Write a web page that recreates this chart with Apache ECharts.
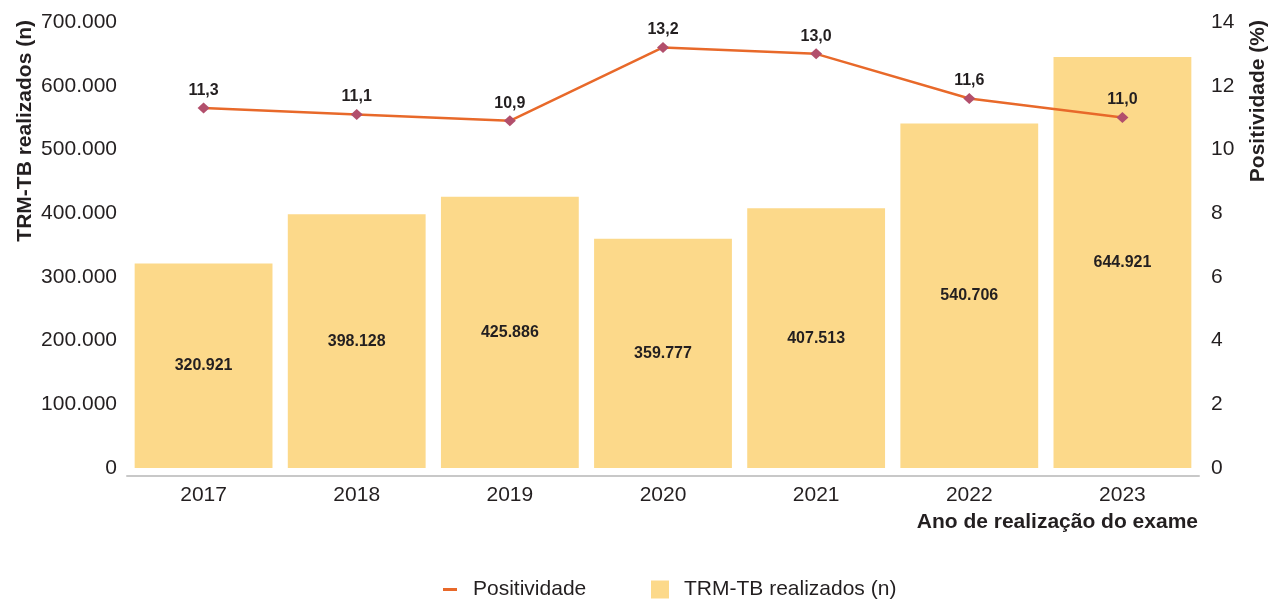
<!DOCTYPE html>
<html>
<head>
<meta charset="utf-8">
<script src="https://cdn.jsdelivr.net/npm/echarts@6/dist/echarts.min.js"></script>
<style>
  html, body { margin: 0; padding: 0; background: #fff; }
  #chart { width: 1276px; height: 603px; }
</style>
</head>
<body>
<div id="chart"></div>
<script>
const years = ['2017', '2018', '2019', '2020', '2021', '2022', '2023']
const testsDone = [320921, 398128, 425886, 359777, 407513, 540706, 644921]
const positivity = [11.3, 11.1, 10.9, 13.2, 13.0, 11.6, 11.0]

const sans = "'Liberation Sans', Arial, sans-serif"
const ink = '#231f20'

const fmtThousands = (v) => String(Math.round(v)).replace(/\B(?=(\d{3})+(?!\d))/g, '.')
const fmtDecimal = (v) => v.toFixed(1).replace('.', ',')

const chart = echarts.init(document.getElementById('chart'))

chart.setOption({
  animation: false,
  grid: { left: 127, right: 77, top: 22, bottom: 135 },
  legend: [
    {
      data: ['Positividade'],
      left: 443, top: 579, padding: 0,
      icon: 'rect', itemWidth: 14, itemHeight: 3,
      itemStyle: { color: '#e8692a' },
      textStyle: { fontFamily: sans, fontSize: 21, color: ink, padding: [0, 0, 0, 11] }
    },
    {
      data: ['TRM-TB realizados (n)'],
      left: 651, top: 579, padding: 0,
      icon: 'rect', itemWidth: 18, itemHeight: 18,
      textStyle: { fontFamily: sans, fontSize: 21, color: ink, padding: [0, 0, 0, 10] }
    }
  ],
  xAxis: {
    type: 'category',
    data: years,
    offset: 8,
    axisLine: { onZero: false, lineStyle: { color: '#c8c8c8', width: 2 } },
    axisTick: { show: false },
    axisLabel: { fontFamily: sans, fontSize: 21, color: ink, margin: 9 }
  },
  yAxis: [
    {
      type: 'value', min: 0, max: 700000, interval: 100000,
      axisLine: { show: false }, axisTick: { show: false }, splitLine: { show: false },
      axisLabel: { fontFamily: sans, fontSize: 21, color: ink, margin: 10, formatter: fmtThousands }
    },
    {
      type: 'value', min: 0, max: 14, interval: 2,
      axisLine: { show: false }, axisTick: { show: false }, splitLine: { show: false },
      axisLabel: { fontFamily: sans, fontSize: 21, color: ink, margin: 12 }
    }
  ],
  graphic: [
    {
      type: 'text', x: 25, y: 20, rotation: Math.PI / 2,
      style: { text: 'TRM-TB realizados (n)', align: 'right', verticalAlign: 'middle',
        font: 'bold 21px ' + sans, fill: ink }
    },
    {
      type: 'text', x: 1258, y: 20, rotation: Math.PI / 2,
      style: { text: 'Positividade (%)', align: 'right', verticalAlign: 'middle',
        font: 'bold 21px ' + sans, fill: ink }
    },
    {
      type: 'text', x: 1198, y: 522,
      style: { text: 'Ano de realização do exame', align: 'right', verticalAlign: 'middle',
        font: 'bold 21px ' + sans, fill: ink }
    }
  ],
  series: [
    {
      name: 'TRM-TB realizados (n)',
      type: 'bar',
      data: testsDone,
      barWidth: '90%',
      itemStyle: { color: '#fcd98a' },
      label: {
        show: true, position: 'inside',
        fontFamily: sans, fontWeight: 'bold', fontSize: 16, color: ink,
        formatter: (p) => fmtThousands(p.value)
      },
      z: 1
    },
    {
      name: 'Positividade',
      type: 'line',
      yAxisIndex: 1,
      data: positivity,
      symbol: 'diamond',
      symbolSize: [12, 11],
      lineStyle: { color: '#e8692a', width: 2.5 },
      itemStyle: { color: '#b24f6c' },
      label: {
        show: true, position: 'top', distance: 4,
        fontFamily: sans, fontWeight: 'bold', fontSize: 16, color: ink,
        formatter: (p) => fmtDecimal(p.value)
      },
      z: 3
    }
  ]
})
</script>
</body>
</html>
